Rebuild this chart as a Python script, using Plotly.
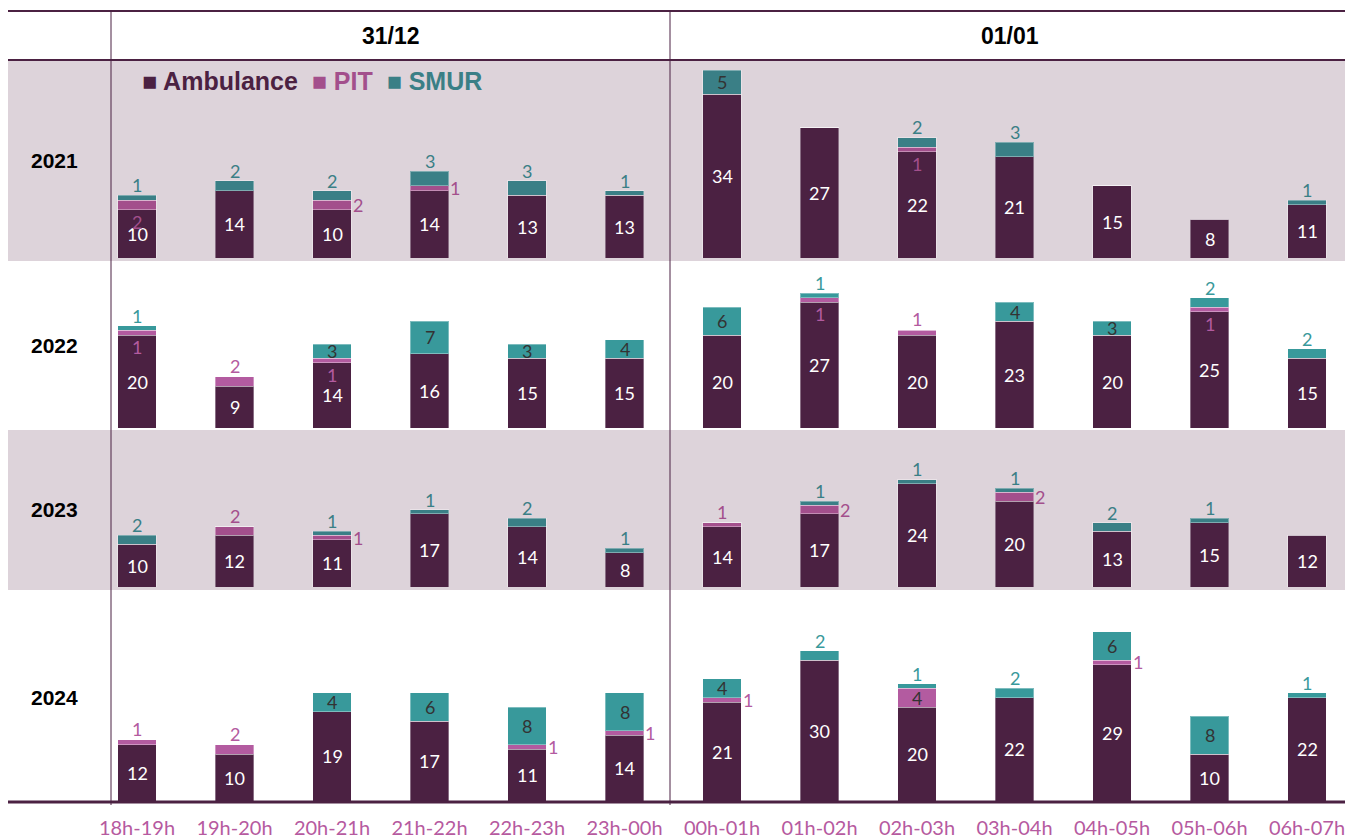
import plotly.graph_objects as go

hours = ["18h-19h", "19h-20h", "20h-21h", "21h-22h", "22h-23h", "23h-00h",
         "00h-01h", "01h-02h", "02h-03h", "03h-04h", "04h-05h", "05h-06h", "06h-07h"]
years = ["2021", "2022", "2023", "2024"]

amb_2021 = [10, 14, 10, 14, 13, 13, 34, 27, 22, 21, 15, 8, 11]
pit_2021 = [2, 0, 2, 1, 0, 0, 0, 0, 1, 0, 0, 0, 0]
smur_2021 = [1, 2, 2, 3, 3, 1, 5, 0, 2, 3, 0, 0, 1]

amb_2022 = [20, 9, 14, 16, 15, 15, 20, 27, 20, 23, 20, 25, 15]
pit_2022 = [1, 2, 1, 0, 0, 0, 0, 1, 1, 0, 0, 1, 0]
smur_2022 = [1, 0, 3, 7, 3, 4, 6, 1, 0, 4, 3, 2, 2]

amb_2023 = [10, 12, 11, 17, 14, 8, 14, 17, 24, 20, 13, 15, 12]
pit_2023 = [0, 2, 1, 0, 0, 0, 1, 2, 0, 2, 0, 0, 0]
smur_2023 = [2, 0, 1, 1, 2, 1, 0, 1, 1, 1, 2, 1, 0]

amb_2024 = [12, 10, 19, 17, 11, 14, 21, 30, 20, 22, 29, 10, 22]
pit_2024 = [1, 2, 0, 0, 1, 1, 1, 0, 4, 0, 1, 0, 0]
smur_2024 = [0, 0, 4, 6, 8, 8, 4, 2, 1, 2, 6, 8, 1]

series = [
    (amb_2021, pit_2021, smur_2021),
    (amb_2022, pit_2022, smur_2022),
    (amb_2023, pit_2023, smur_2023),
    (amb_2024, pit_2024, smur_2024),
]

# the page body has an 8px margin, so the figure starts at (8, 8) in the window
OFF = 8
W, H = 1350, 837
PLUM = "#4b2142"
FONT = "Lato"
STEP = 97.5  # px between two hours


def px(x):
    return (x - OFF) / W


def py(y):
    return 1 - (y - OFF) / H


# per row: band top px, baseline px, px per unit, shaded band?, colours (window pixels)
rows = [
    dict(top=60, base=258, ppu=4.82, band=True, pit="#a34f8c", smur="#3a7f86", smur_in=4),
    dict(top=260, base=428, ppu=4.65, band=False, pit="#b35ba0", smur="#38999b", smur_in=3),
    dict(top=430, base=587, ppu=4.30, band=True, pit="#a34f8c", smur="#3a7f86", smur_in=4),
    dict(top=591, base=801, ppu=4.70, band=False, pit="#b35ba0", smur="#38999b", smur_in=3),
]
# PIT labels drawn just under their segment instead of beside the bar
pit_below = {(0, 0), (0, 8), (1, 0), (1, 2), (1, 7), (1, 11)}

fig = go.Figure()
annotations = []
shapes = []
LBL = 18

for r, (amb, pit, smur) in enumerate(series):
    st = rows[r]
    yname = "y" if r == 0 else "y%d" % (r + 1)
    line = dict(color="rgba(255,255,255,0.35)", width=1)
    fig.add_trace(go.Bar(x=hours, y=amb, name="Ambulance", marker=dict(color=PLUM, line=line),
                         xaxis="x", yaxis=yname, width=0.39, hoverinfo="x+y+name"))
    fig.add_trace(go.Bar(x=hours, y=pit, name="PIT", marker=dict(color=st["pit"], line=line),
                         xaxis="x", yaxis=yname, width=0.39, hoverinfo="x+y+name"))
    fig.add_trace(go.Bar(x=hours, y=smur, name="SMUR", marker=dict(color=st["smur"], line=line),
                         xaxis="x", yaxis=yname, width=0.39, hoverinfo="x+y+name"))

    for i in range(len(hours)):
        a, p, s = amb[i], pit[i], smur[i]
        tot = a + p + s
        annotations.append(dict(x=i, y=a / 2, xref="x", yref=yname, text=str(a), showarrow=False,
                                font=dict(family=FONT, size=LBL, color="white")))
        if s > 0:
            if s >= st["smur_in"]:
                annotations.append(dict(x=i, y=a + p + s / 2, xref="x", yref=yname, text=str(s),
                                        showarrow=False, font=dict(family=FONT, size=LBL, color="#333333")))
            else:
                annotations.append(dict(x=i, y=tot, xref="x", yref=yname, text=str(s), yanchor="bottom",
                                        yshift=-3, showarrow=False,
                                        font=dict(family=FONT, size=LBL, color=st["smur"])))
        if p > 0:
            if p >= 3:
                annotations.append(dict(x=i, y=a + p / 2, xref="x", yref=yname, text=str(p),
                                        showarrow=False, font=dict(family=FONT, size=LBL, color="#333333")))
            elif s == 0:
                annotations.append(dict(x=i, y=tot, xref="x", yref=yname, text=str(p), yanchor="bottom",
                                        yshift=-2, showarrow=False,
                                        font=dict(family=FONT, size=LBL, color=st["pit"])))
            elif (r, i) in pit_below:
                annotations.append(dict(x=i, y=a, xref="x", yref=yname, text=str(p), yanchor="top",
                                        yshift=1, showarrow=False,
                                        font=dict(family=FONT, size=LBL, color=st["pit"])))
            else:
                annotations.append(dict(x=i + 0.19, y=a + p / 2, xref="x", yref=yname, text=str(p),
                                        xanchor="left", showarrow=False,
                                        font=dict(family=FONT, size=LBL, color=st["pit"])))

    annotations.append(dict(x=px(54), y=py((st["top"] + st["base"]) / 2 + 1), xref="paper",
                            yref="paper", xanchor="center", yanchor="middle",
                            text="<b>%s</b>" % years[r], showarrow=False,
                            font=dict(family="Liberation Sans", size=21, color="black")))
    if st["band"]:
        shapes.append(dict(type="rect", xref="paper", yref="paper", layer="below",
                           x0=px(8), x1=px(1345), y0=py(st["base"] + 3), y1=py(st["top"]),
                           fillcolor="#ddd3da", line=dict(width=0)))


def hline(ypx, width):
    return dict(type="line", xref="paper", yref="paper", x0=px(8), x1=px(1345),
                y0=py(ypx), y1=py(ypx), line=dict(color=PLUM, width=width))


def vline(xpx):
    return dict(type="line", xref="paper", yref="paper", x0=px(xpx), x1=px(xpx),
                y0=py(805), y1=py(10), line=dict(color=PLUM, width=1))


shapes += [hline(11, 2), hline(60, 2), hline(802, 3), vline(111), vline(670)]

for txt, xc in (("31/12", 391), ("01/01", 1010)):
    annotations.append(dict(x=px(xc), y=py(36), xref="paper", yref="paper", xanchor="center",
                            yanchor="middle", text="<b>%s</b>" % txt, showarrow=False,
                            font=dict(family="Liberation Sans", size=23, color="black")))

legend_txt = ("<span style='color:%s'>■ Ambulance</span>  "
              "<span style='color:%s'>■ PIT</span>  "
              "<span style='color:%s'>■ SMUR</span>"
              % (PLUM, "#a34f8c", "#3a7f86"))
annotations.append(dict(x=px(140), y=py(81), xref="paper", yref="paper", xanchor="left",
                        yanchor="middle", text="<b>%s</b>" % legend_txt, showarrow=False,
                        font=dict(family="Liberation Sans", size=25)))

r0 = -(137 - OFF) / STEP
layout = dict(
    width=W, height=H,
    margin=dict(l=0, r=0, t=0, b=0),
    paper_bgcolor="white", plot_bgcolor="rgba(0,0,0,0)",
    barmode="stack", showlegend=False,
    annotations=annotations, shapes=shapes,
    xaxis=dict(anchor="y4", domain=[0, 1], range=[r0, r0 + W / STEP], showgrid=False, zeroline=False,
               showline=False, ticks="", ticklabelstandoff=13,
               tickfont=dict(family=FONT, size=20, color="#b65aa0")),
)
for r, st in enumerate(rows):
    key = "yaxis" if r == 0 else "yaxis%d" % (r + 1)
    layout[key] = dict(anchor="x", domain=[py(st["base"]), py(st["top"])],
                       range=[0, (st["base"] - st["top"]) / st["ppu"]], visible=False, fixedrange=True)

fig.update_layout(**layout)
fig.write_html("out.html")
